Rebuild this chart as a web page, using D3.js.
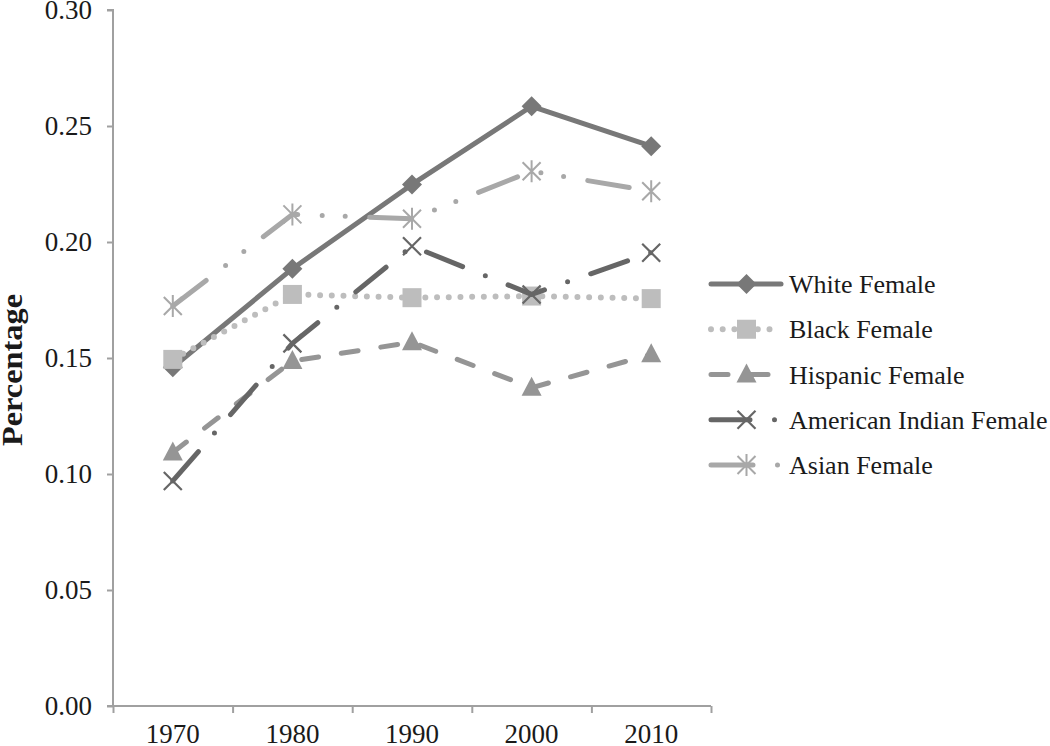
<!DOCTYPE html>
<html><head><meta charset="utf-8">
<script src="https://cdn.jsdelivr.net/npm/d3@7"></script>
<style>body{margin:0;background:#fff}svg{display:block}text{font-family:"Liberation Serif","Times New Roman",serif;fill:#1a1a1a}</style>
</head><body><svg id="c" width="1050" height="746"></svg>
<script>
const years = ["1970","1980","1990","2000","2010"];
const seriesNames = ["White Female","Black Female","Hispanic Female","American Indian Female","Asian Female"];
const whiteFemale = [0.146, 0.1885, 0.2248, 0.2585, 0.2413];
const blackFemale = [0.1494, 0.1774, 0.176, 0.1767, 0.1756];
const hispanicFemale = [0.1093, 0.1487, 0.1568, 0.1372, 0.1516];
const americanIndianFemale = [0.097, 0.1563, 0.1982, 0.1774, 0.1954];
const asianFemale = [0.1724, 0.2119, 0.210, 0.2305, 0.2219];
const yTicks = [0, 0.05, 0.10, 0.15, 0.20, 0.25, 0.30];

const values = [whiteFemale, blackFemale, hispanicFemale, americanIndianFemale, asianFemale];
const styles = [
  {color:"#787878", dash:null, width:5, marker:"diamond"},
  {color:"#bdbdbd", dash:"0,11.7", width:6, marker:"square"},
  {color:"#959595", dash:"17,23", width:5, marker:"triangle"},
  {color:"#666666", dash:"39,24.5,0,24.5", width:5, marker:"x"},
  {color:"#a8a8a8", dash:"42,24.5,0,23,0,24.5", width:5, marker:"star"}
];

const svg = d3.select("#c");
const x0 = 113, x1 = 711, yTop = 10, yBot = 706;
const x = d3.scaleBand().domain(years).range([x0, x1]);
const xb = d3.scaleLinear().domain([0, years.length]).range([x0, x1]);
const y = d3.scaleLinear().domain([0, 0.30]).range([yBot, yTop]);
const axisColor = "#a0a0a0";

// Y axis
const ya = svg.append("g").attr("transform", `translate(${x0},0)`)
  .call(d3.axisLeft(y).tickValues(yTicks).tickFormat(d3.format(".2f")).tickSize(6).tickPadding(15));
ya.select(".domain").attr("stroke", axisColor).attr("stroke-width", 2).attr("d", `M-6,${yTop}H0V${yBot}H-6`);
ya.selectAll(".tick line").attr("stroke", axisColor).attr("stroke-width", 2);
ya.selectAll("text").style("font-size", "27px").style("font-family", '"Liberation Serif",serif').attr("fill", "#1a1a1a");

// X axis ticks at band boundaries
const xa = svg.append("g").attr("transform", `translate(0,${yBot})`)
  .call(d3.axisBottom(xb).tickValues(d3.range(years.length + 1)).tickFormat("").tickSize(7));
xa.select(".domain").attr("stroke", axisColor).attr("stroke-width", 2).attr("d", `M${x0},0H${x1}`);
xa.selectAll(".tick line").attr("stroke", axisColor).attr("stroke-width", 2);
const xl = svg.append("g").attr("transform", `translate(0,${yBot})`)
  .call(d3.axisBottom(x).tickSize(0).tickPadding(18));
xl.select(".domain").remove();
xl.selectAll("text").style("font-size", "27px").style("font-family", '"Liberation Serif",serif').attr("fill", "#1a1a1a");

// Y title
svg.append("text").attr("transform", "translate(21.5,370) rotate(-90)")
  .attr("text-anchor", "middle").style("font-size", "29px").style("font-weight", "bold")
  .attr("textLength", 152).attr("lengthAdjust", "spacingAndGlyphs").text("Percentage");

function drawMarker(g, type, cx, cy, color) {
  const m = g.append("g").attr("transform", `translate(${cx},${cy})`);
  if (type === "diamond") m.append("path").attr("d", "M0,-10L10,0L0,10L-10,0Z").attr("fill", color);
  else if (type === "square") m.append("rect").attr("x", -9.5).attr("y", -9.5).attr("width", 19).attr("height", 19).attr("fill", color);
  else if (type === "triangle") m.append("path").attr("d", "M0,-11L10,8L-10,8Z").attr("fill", color);
  else if (type === "x") m.append("path").attr("d", "M-9,-9L9,9M-9,9L9,-9").attr("stroke", color).attr("stroke-width", 2.2).attr("fill", "none");
  else if (type === "star") m.append("path").attr("d", "M-9,-9L9,9M-9,9L9,-9M0,-11V11").attr("stroke", color).attr("stroke-width", 2).attr("fill", "none");
}

const line = d3.line().x((d, i) => x(years[i]) + x.bandwidth() / 2).y(d => y(d));
values.forEach((vals, k) => {
  const st = styles[k];
  const g = svg.append("g");
  g.append("path").datum(vals).attr("d", line).attr("fill", "none")
    .attr("stroke", st.color).attr("stroke-width", st.width)
    .attr("stroke-linecap", "round").attr("stroke-linejoin", "round")
    .attr("stroke-dasharray", st.dash);
  vals.forEach((v, i) => drawMarker(g, st.marker, x(years[i]) + x.bandwidth() / 2, y(v), st.color));
});

// Legend
const legY = d3.scalePoint().domain(seriesNames).range([284, 465]);
seriesNames.forEach((name, k) => {
  const st = styles[k];
  const g = svg.append("g");
  const ly = legY(name);
  g.append("line").attr("x1", 711).attr("x2", 781).attr("y1", ly).attr("y2", ly)
    .attr("stroke", st.color).attr("stroke-width", st.width).attr("stroke-linecap", "round")
    .attr("stroke-dasharray", st.dash);
  drawMarker(g, st.marker, 746.5, ly, st.color);
  g.append("text").attr("x", 789).attr("y", ly).attr("dy", "0.35em").style("font-size", "26px").text(name);
});
</script></body></html>
